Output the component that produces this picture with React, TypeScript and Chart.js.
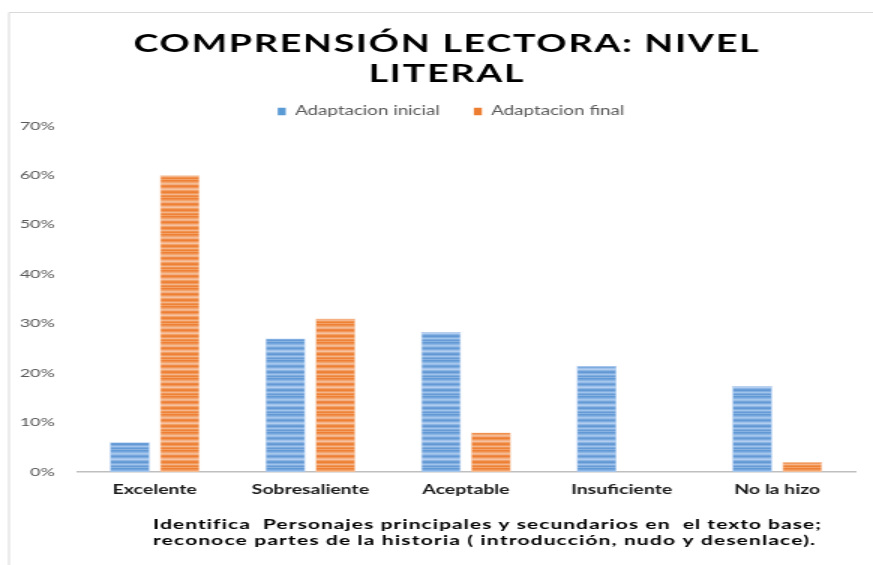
import React, { useEffect, useRef } from 'react';
import { Chart, registerables } from 'chart.js';

Chart.register(...registerables);

// ---- data ----
const categories = ['Excelente', 'Sobresaliente', 'Aceptable', 'Insuficiente', 'No la hizo'];
const seriesNames = ['Adaptacion inicial', 'Adaptacion final'];
const adaptacionInicial = [0.06, 0.27, 0.283, 0.214, 0.174];
const adaptacionFinal = [0.6, 0.31, 0.08, 0, 0.02];
const titleLines = ['COMPRENSIÓN LECTORA: NIVEL', 'LITERAL'];
const captionLines = [
  'Identifica  Personajes principales y secundarios en  el texto base;',
  'reconoce partes de la historia ( introducción, nudo y desenlace).',
];
const yMin = 0;
const yMax = 0.7;
const yStep = 0.1;

// ---- layout (reference picture is horizontally stretched) ----
const OUT_W = 873;
const OUT_H = 565;
const SX = 1.5; // horizontal stretch
const W = OUT_W / SX;
const H = OUT_H;
const cx = (x: number) => x / SX;

function makeStripePattern(rows: string[]): CanvasPattern | string {
  const c = document.createElement('canvas');
  c.width = 4;
  c.height = rows.length;
  const g = c.getContext('2d');
  if (!g) return rows[0];
  rows.forEach((col, i) => {
    g.fillStyle = col;
    g.fillRect(0, i, 4, 1);
  });
  const p = g.createPattern(c, 'repeat');
  return p || rows[0];
}

function drawSpaced(
  ctx: CanvasRenderingContext2D,
  text: string,
  xStart: number,
  y: number,
  targetW: number,
) {
  (ctx as any).letterSpacing = '0px';
  const w = ctx.measureText(text).width;
  const n = text.length;
  const sp = n > 1 ? (targetW - w) / (n - 1) : 0;
  (ctx as any).letterSpacing = `${sp}px`;
  ctx.textAlign = 'left';
  ctx.fillText(text, xStart, y);
  (ctx as any).letterSpacing = '0px';
}

const decorPlugin = {
  id: 'decor',
  afterLayout(chart: any) {
    // centre the legend where the reference has it
    const lg = chart.legend;
    if (lg) {
      lg.left = cx(47);
      lg.right = W - cx(18);
      lg.width = lg.right - lg.left;
      lg.top = lg.top + 2;
      lg.bottom = lg.bottom + 2;
    }
  },
  beforeDraw(chart: any) {
    const ctx: CanvasRenderingContext2D = chart.ctx;
    ctx.save();
    ctx.fillStyle = '#ffffff';
    ctx.fillRect(0, 0, chart.width, chart.height);
    ctx.strokeStyle = '#d9d9d9';
    ctx.lineWidth = 1;
    ctx.beginPath();
    ctx.moveTo(cx(9), H);
    ctx.lineTo(cx(9), 12.5);
    ctx.lineTo(chart.width, 12.5);
    ctx.stroke();
    ctx.restore();
  },
  afterDraw(chart: any) {
    const ctx: CanvasRenderingContext2D = chart.ctx;
    ctx.save();
    ctx.fillStyle = '#000000';
    ctx.textBaseline = 'alphabetic';
    ctx.font = '700 25px Lato';
    const titleW = [cx(625), cx(155)];
    const titleCenter = cx(446);
    const titleBase = [51.5, 81.5];
    titleLines.forEach((t, i) => {
      drawSpaced(ctx, t, titleCenter - titleW[i] / 2, titleBase[i], titleW[i]);
    });
    ctx.font = '700 14px Lato';
    const capW = [cx(668), cx(662)];
    const capBase = [529, 545];
    captionLines.forEach((t, i) => {
      drawSpaced(ctx, t, cx(153), capBase[i], capW[i]);
    });
    ctx.restore();
  },
};

export default function App() {
  const ref = useRef<HTMLCanvasElement | null>(null);

  useEffect(() => {
    const canvas = ref.current;
    if (!canvas) return;
    const blue = makeStripePattern([
      '#6299d5', '#72a5dc', '#8ab4e4', '#a6c6ec', '#97bce8', '#74a6dc',
      '#6399d5', '#7eacdf', '#9fc1ea', '#b1cdef', '#8cb5e4', '#6c9fd8',
      '#6299d5', '#84b0e1', '#a2c3eb', '#80ade0', '#679bd6', '#88b2e2',
    ]);
    const orange = makeStripePattern([
      '#ee8036', '#f08f4e', '#f2a46e', '#f5bb93', '#f3ae83', '#ef8a46',
      '#ed7e33', '#f19758', '#f4b086', '#f6c29f', '#f2a066', '#ee863e',
      '#ee8036', '#f19b5e', '#f4b48c', '#f09452', '#ee8239', '#f2a266',
    ]);

    const chart = new Chart(canvas, {
      type: 'bar',
      data: {
        labels: categories,
        datasets: [
          {
            label: seriesNames[0],
            data: adaptacionInicial,
            backgroundColor: blue as any,
            borderColor: '#a9c8ee',
            borderWidth: 0.7,
            categoryPercentage: 100 / 155.6,
            barPercentage: 0.8,
          },
          {
            label: seriesNames[1],
            data: adaptacionFinal,
            backgroundColor: orange as any,
            borderColor: '#f6c4a0',
            borderWidth: 0.7,
            categoryPercentage: 100 / 155.6,
            barPercentage: 0.8,
          },
        ],
      },
      options: {
        responsive: false,
        maintainAspectRatio: false,
        animation: false,
        devicePixelRatio: 1,
        layout: {
          padding: { left: cx(9), right: cx(18), top: 80.5, bottom: 68 },
        },
        plugins: {
          title: { display: false },
          tooltip: { enabled: false },
          legend: {
            display: true,
            position: 'top',
            labels: {
              boxWidth: cx(8),
              boxHeight: 7.5,
              padding: cx(34),
              color: '#595959',
              font: { family: 'Lato', size: 12.5 },
              generateLabels: (ch: any) =>
                ch.data.datasets.map((ds: any, i: number) => ({
                  text: ds.label,
                  fillStyle: i === 0 ? '#5b9bd5' : '#ed7d31',
                  strokeStyle: i === 0 ? '#5b9bd5' : '#ed7d31',
                  lineWidth: 0,
                  hidden: false,
                  datasetIndex: i,
                  fontColor: '#595959',
                })),
            },
          },
        },
        scales: {
          x: {
            grid: { display: false, drawTicks: false },
            border: { display: true, color: '#bfbfbf', width: 1.5 },
            ticks: {
              color: '#1a1a1a',
              padding: 10,
              font: { family: 'Lato', size: 13, weight: 'bold' },
              maxRotation: 0,
              autoSkip: false,
            },
            afterFit: (scale: any) => {
              scale.height = 25;
            },
          },
          y: {
            min: yMin,
            max: yMax,
            grid: { display: false, drawTicks: false },
            border: { display: false },
            ticks: {
              stepSize: yStep,
              color: '#595959',
              padding: cx(22),
              font: { family: 'Lato', size: 12 },
              callback: (v: any) => `${Math.round(Number(v) * 100)}%`,
            },
            afterFit: (scale: any) => {
              scale.width = cx(77 - 9);
            },
          },
        },
      },
      plugins: [decorPlugin],
    });

    return () => {
      chart.destroy();
    };
  }, []);

  return (
    <div style={{ position: 'absolute', left: 0, top: 0, width: OUT_W, height: OUT_H, background: '#fff' }}>
      <canvas
        ref={ref}
        width={Math.round(W)}
        height={H}
        style={{ width: `${OUT_W}px`, height: `${OUT_H}px`, display: 'block' }}
      />
    </div>
  );
}
